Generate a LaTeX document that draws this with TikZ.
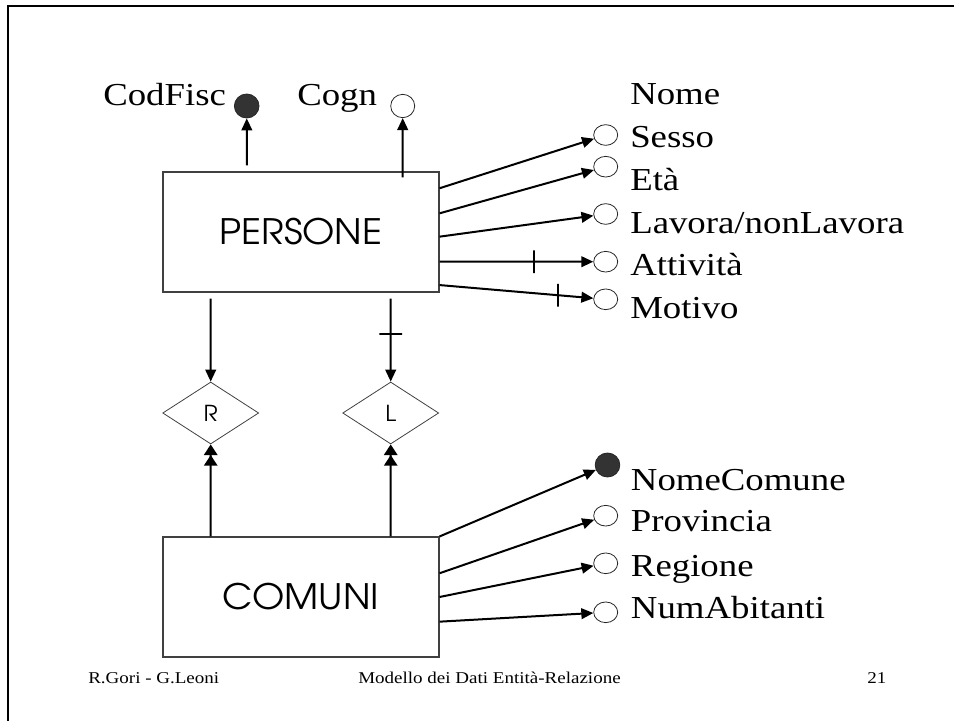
\documentclass[tikz,border=0pt]{standalone}
\usepackage{fontspec}
\setmainfont{Liberation Serif}[FakeStretch=1.15]
\newfontfamily\gothic{texgyreadventor-regular.otf}[FakeStretch=1.06]
\usetikzlibrary{arrows.meta,shapes.geometric}

\begin{document}
\begin{tikzpicture}[x=0.75pt,y=-0.75pt,
	entity/.style={draw=black!75,line width=0.8pt,inner sep=0pt,minimum width=207pt,minimum height=90pt,font=\gothic\fontsize{26.3}{30}\selectfont},
	relship/.style={diamond,draw=black!75,line width=0.6pt,inner sep=0pt,aspect=1.5,minimum width=72pt,minimum height=46.5pt,font=\gothic\fontsize{16.5}{18}\selectfont},
	attr/.style={ellipse,draw=black!85,line width=0.6pt,inner sep=0pt,minimum width=18pt,minimum height=15.5pt},
	keyattr/.style={attr,fill=black!80,minimum width=18.5pt,minimum height=18pt},
	attrname/.style={anchor=base west,inner sep=0pt,font=\fontsize{24}{28}\selectfont},
	foot/.style={anchor=base west,inner sep=0pt,font=\fontsize{12.4}{14}\selectfont},
	link/.style={line width=1.5pt,-{Triangle[length=9pt,width=8pt]}},
	idlink/.style={line width=1.5pt,-{Triangle[length=8pt,width=10pt]Triangle[length=8pt,width=10pt]}},
	vmark/.style={draw,line width=1.5pt,inner sep=0pt,minimum width=0pt,minimum height=17pt},
	hmark/.style={draw,line width=1.5pt,inner sep=0pt,minimum width=17pt,minimum height=0pt}]
	\useasboundingbox (0,0) rectangle (954,721);
	\draw[line width=1.5pt] (8.3,721) -- (8.3,5.7) -- (954,5.7);

	\node[entity] (pers) at (301,232) {PERSONE};
	\node[entity] (com) at (301,597) {COMUNI};
	\node[relship] (rr) at (210.7,413) {R};
	\node[relship] (rl) at (390.7,413) {L};

	% attributi di PERSONE
	\node[keyattr] (codfisc) at (246.7,106) {};
	\node[attr,minimum height=17.5pt] (cogn) at (402.7,106) {};
	\node[attrname] (tcodfisc) at (103,105) {CodFisc};
	\node[attrname] (tcogn) at (297,105) {Cogn};
	\node[attr] (sesso) at (605.7,135) {};
	\node[attr] (eta) at (605.7,166.7) {};
	\node[attr] (lavora) at (605.7,214) {};
	\node[attr] (attivita) at (605.7,261.7) {};
	\node[attr] (motivo) at (605.7,299.3) {};
	\node[attrname] (tnome) at (630,104) {Nome};
	\node[attrname] (tsesso) at (630,147) {Sesso};
	\node[attrname] (teta) at (630,190.5) {Età};
	\node[attrname] (tlavora) at (630,233) {Lavora/nonLavora};
	\node[attrname] (tattivita) at (630,275.5) {Attività};
	\node[attrname] (tmotivo) at (630,318) {Motivo};

	% attributi di COMUNI
	\node[keyattr] (nomecom) at (607.5,465) {};
	\node[attr] (prov) at (605.7,515.7) {};
	\node[attr] (reg) at (605.7,563.3) {};
	\node[attr] (numab) at (605.7,612.3) {};
	\node[attrname] (tnomecom) at (630.7,490) {NomeComune};
	\node[attrname] (tprov) at (630.7,531.7) {Provincia};
	\node[attrname] (treg) at (630.7,576.7) {Regione};
	\node[attrname] (tnumab) at (630.7,618.3) {NumAbitanti};

	\draw[link] ([xshift=-40.5pt,yshift=4.5pt]pers.north) -- (codfisc);
	\draw[link] ([xshift=76.3pt,yshift=-4.5pt]pers.north) -- (cogn);
	\draw[link] ([yshift=32.8pt]pers.east) -- (sesso);
	\draw[link] ([yshift=14pt]pers.east) -- (eta);
	\draw[link] ([yshift=-3.5pt]pers.east) -- (lavora);
	\draw[link] ([yshift=-22.3pt]pers.east) -- (attivita) node[vmark,pos=0.615] {};
	\draw[link] ([yshift=-39.8pt]pers.east) -- (motivo) node[vmark,pos=0.77] {};

	\draw[link] ([xshift=-67.7pt,yshift=-4.5pt]pers.south) -- (rr);
	\draw[link] ([xshift=67.3pt,yshift=-4.5pt]pers.south) -- (rl) node[hmark,pos=0.43] {};
	\draw[idlink] ([xshift=-67.7pt]com.north) -- (rr);
	\draw[idlink] ([xshift=67.3pt]com.north) -- (rl);

	\draw[link] (com.north east) -- (nomecom);
	\draw[link] ([yshift=17.8pt]com.east) -- (prov);
	\draw[link] (com.east) -- (reg);
	\draw[link] ([yshift=-18.5pt]com.east) -- (numab);

	\node[foot] (autori) at (88,683) {R.Gori - G.Leoni};
	\node[foot] (titolo) at (358,683) {Modello dei Dati Entità-Relazione};
	\node[foot] (pagina) at (867,683) {21};
\end{tikzpicture}
\end{document}
